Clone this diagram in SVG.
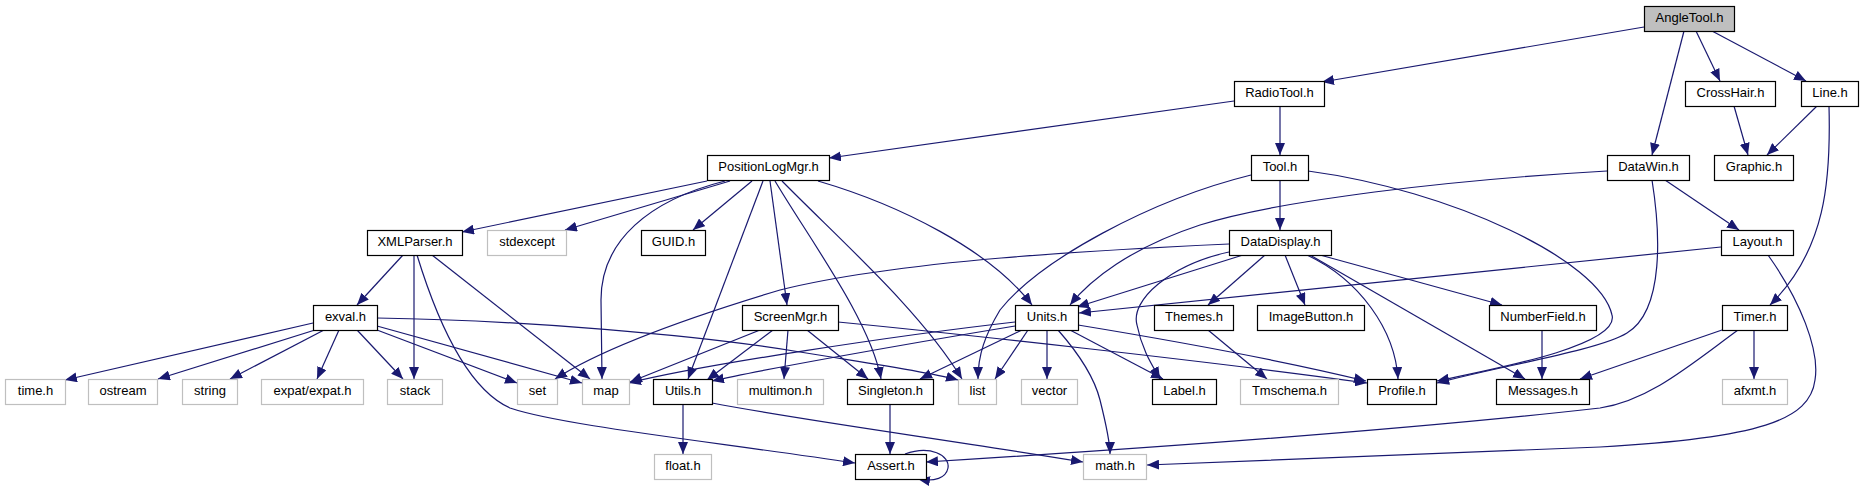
<svg xmlns="http://www.w3.org/2000/svg" width="1863" height="486" viewBox="0 0 1863 486">
<defs>
<style>
.n rect{fill:#fff;stroke:#000;stroke-width:1.2}
.n.s rect{stroke:#bfbfbf}
.n.r rect{fill:#bfbfbf}
.n text{font-family:"Liberation Sans",Arial,sans-serif;font-size:13px;fill:#000;text-anchor:middle}
#edges path{fill:none;stroke:#191970;stroke-width:1.2;marker-end:url(#a)}
</style>
<marker id="a" markerUnits="userSpaceOnUse" markerWidth="12" markerHeight="10" refX="12" refY="5" orient="auto">
<path d="M0,0L12,5L0,10z" fill="#191970"/>
</marker>
</defs>
<rect width="1863" height="486" fill="#fff"/>
<g id="edges">
<path d="M1644,27 L1322,82"/>
<path d="M1684,31 L1652,155"/>
<path d="M1696,31 L1720,81"/>
<path d="M1712,31 L1806,81"/>
<path d="M1280,106 L1280,155"/>
<path d="M1234,101 L829,158"/>
<path d="M1734,106 L1748,155"/>
<path d="M1817,106 L1767,155"/>
<path d="M1829,106 C1831,180 1826,250 1770,305"/>
<path d="M707,181 L462,232"/>
<path d="M730,181 L565,230"/>
<path d="M725,181 C650,200 601,240 601,300 L602,379"/>
<path d="M752,181 L693,230"/>
<path d="M763,181 L688,379"/>
<path d="M770,181 L787,305"/>
<path d="M775,181 C810,240 870,320 881,379"/>
<path d="M782,181 C840,240 920,310 962,379"/>
<path d="M818,181 C900,205 990,250 1032,305"/>
<path d="M1280,180 L1280,230"/>
<path d="M1251,175 C1150,200 1040,260 1000,310 C985,335 978,355 978,379"/>
<path d="M1308,171 C1450,190 1600,260 1612,315 C1620,345 1500,368 1437,381"/>
<path d="M1652,180 C1660,230 1665,310 1627,333 C1600,350 1500,366 1437,383"/>
<path d="M1607,171 C1450,180 1280,200 1200,225 C1130,248 1090,280 1070,305"/>
<path d="M1665,180 L1739,230"/>
<path d="M1721,247 L1079,313"/>
<path d="M1768,255 C1800,300 1820,350 1815,380 C1810,420 1760,438 1600,447 C1400,455 1250,462 1147,465"/>
<path d="M403,255 L357,305"/>
<path d="M414,255 L414,379"/>
<path d="M432,255 L590,379"/>
<path d="M417,255 C440,330 470,390 510,408 C560,425 700,440 855,463"/>
<path d="M1229,244 C1100,250 900,260 780,290 C680,320 600,350 555,379"/>
<path d="M1243,255 L1077,307"/>
<path d="M1265,255 L1208,305"/>
<path d="M1285,255 L1305,305"/>
<path d="M1229,252 C1170,265 1130,300 1137,325 C1142,350 1152,365 1160,379"/>
<path d="M1307,255 C1360,280 1395,330 1398,379"/>
<path d="M1310,255 L1525,379"/>
<path d="M1320,255 L1502,305"/>
<path d="M313,323 L65,380"/>
<path d="M315,330 L158,379"/>
<path d="M324,330 L230,379"/>
<path d="M339,330 L317,379"/>
<path d="M357,330 L403,379"/>
<path d="M377,330 L517,383"/>
<path d="M377,326 L582,383"/>
<path d="M377,318 C520,320 700,335 800,352 C880,365 930,372 958,380"/>
<path d="M760,330 L630,382"/>
<path d="M773,330 L707,380"/>
<path d="M788,330 L784,379"/>
<path d="M807,330 L868,379"/>
<path d="M838,322 C950,333 1200,360 1367,383"/>
<path d="M1015,322 C900,335 700,365 629,383"/>
<path d="M1015,326 C900,345 760,370 712,381"/>
<path d="M1022,330 L920,379"/>
<path d="M1028,330 L995,379"/>
<path d="M1047,330 L1047,379"/>
<path d="M1070,330 L1163,379"/>
<path d="M1058,330 C1080,355 1095,380 1100,400 C1105,420 1110,440 1110,454"/>
<path d="M1078,325 C1200,345 1300,365 1366,381"/>
<path d="M1208,330 L1267,379"/>
<path d="M1542,330 L1542,379"/>
<path d="M1722,330 L1580,379"/>
<path d="M1754,330 L1754,379"/>
<path d="M1738,330 C1690,365 1650,400 1600,408 C1450,425 1200,445 926,462"/>
<path d="M683,404 L683,454"/>
<path d="M890,404 L890,454"/>
<path d="M905,454 C930,445 950,455 948,468 C946,478 935,482 918,479"/>
<path d="M712,403 C800,420 950,440 1083,462"/>
</g>
<g id="AngleTool" class="n r"><rect x="1644.5" y="6.5" width="90" height="25"/><text x="1689.5" y="22">AngleTool.h</text></g>
<g id="RadioTool" class="n"><rect x="1234.5" y="81.5" width="90" height="25"/><text x="1279.5" y="97">RadioTool.h</text></g>
<g id="CrossHair" class="n"><rect x="1685.5" y="81.5" width="90" height="25"/><text x="1730.5" y="97">CrossHair.h</text></g>
<g id="Line" class="n"><rect x="1801.5" y="81.5" width="57" height="25"/><text x="1830" y="97">Line.h</text></g>
<g id="PositionLogMgr" class="n"><rect x="707.5" y="155.5" width="122" height="25"/><text x="768.5" y="171">PositionLogMgr.h</text></g>
<g id="Tool" class="n"><rect x="1251.5" y="155.5" width="57" height="25"/><text x="1280" y="171">Tool.h</text></g>
<g id="DataWin" class="n"><rect x="1607.5" y="155.5" width="82" height="25"/><text x="1648.5" y="171">DataWin.h</text></g>
<g id="Graphic" class="n"><rect x="1714.5" y="155.5" width="79" height="25"/><text x="1754" y="171">Graphic.h</text></g>
<g id="XMLParser" class="n"><rect x="367.5" y="230.5" width="95" height="25"/><text x="415" y="246">XMLParser.h</text></g>
<g id="stdexcept" class="n s"><rect x="487.5" y="230.5" width="79" height="25"/><text x="527" y="246">stdexcept</text></g>
<g id="GUID" class="n"><rect x="641.5" y="230.5" width="64" height="25"/><text x="673.5" y="246">GUID.h</text></g>
<g id="DataDisplay" class="n"><rect x="1229.5" y="230.5" width="102" height="25"/><text x="1280.5" y="246">DataDisplay.h</text></g>
<g id="Layout" class="n"><rect x="1721.5" y="230.5" width="72" height="25"/><text x="1757.5" y="246">Layout.h</text></g>
<g id="exval" class="n"><rect x="313.5" y="305.5" width="64" height="25"/><text x="345.5" y="321">exval.h</text></g>
<g id="ScreenMgr" class="n"><rect x="742.5" y="305.5" width="96" height="25"/><text x="790.5" y="321">ScreenMgr.h</text></g>
<g id="Units" class="n"><rect x="1015.5" y="305.5" width="63" height="25"/><text x="1047" y="321">Units.h</text></g>
<g id="Themes" class="n"><rect x="1154.5" y="305.5" width="79" height="25"/><text x="1194" y="321">Themes.h</text></g>
<g id="ImageButton" class="n"><rect x="1257.5" y="305.5" width="107" height="25"/><text x="1311" y="321">ImageButton.h</text></g>
<g id="NumberField" class="n"><rect x="1489.5" y="305.5" width="107" height="25"/><text x="1543" y="321">NumberField.h</text></g>
<g id="Timer" class="n"><rect x="1722.5" y="305.5" width="65" height="25"/><text x="1755" y="321">Timer.h</text></g>
<g id="time" class="n s"><rect x="5.5" y="379.5" width="60" height="25"/><text x="35.5" y="395">time.h</text></g>
<g id="ostream" class="n s"><rect x="88.5" y="379.5" width="69" height="25"/><text x="123" y="395">ostream</text></g>
<g id="string" class="n s"><rect x="182.5" y="379.5" width="55" height="25"/><text x="210" y="395">string</text></g>
<g id="expat" class="n s"><rect x="261.5" y="379.5" width="102" height="25"/><text x="312.5" y="395">expat/expat.h</text></g>
<g id="stack" class="n s"><rect x="387.5" y="379.5" width="55" height="25"/><text x="415" y="395">stack</text></g>
<g id="set" class="n s"><rect x="517.5" y="379.5" width="40" height="25"/><text x="537.5" y="395">set</text></g>
<g id="map" class="n s"><rect x="582.5" y="379.5" width="47" height="25"/><text x="606" y="395">map</text></g>
<g id="Utils" class="n"><rect x="653.5" y="379.5" width="59" height="25"/><text x="683" y="395">Utils.h</text></g>
<g id="multimon" class="n s"><rect x="737.5" y="379.5" width="86" height="25"/><text x="780.5" y="395">multimon.h</text></g>
<g id="Singleton" class="n"><rect x="847.5" y="379.5" width="86" height="25"/><text x="890.5" y="395">Singleton.h</text></g>
<g id="list" class="n s"><rect x="958.5" y="379.5" width="38" height="25"/><text x="977.5" y="395">list</text></g>
<g id="vector" class="n s"><rect x="1021.5" y="379.5" width="56" height="25"/><text x="1049.5" y="395">vector</text></g>
<g id="Label" class="n"><rect x="1152.5" y="379.5" width="64" height="25"/><text x="1184.5" y="395">Label.h</text></g>
<g id="Tmschema" class="n s"><rect x="1240.5" y="379.5" width="98" height="25"/><text x="1289.5" y="395">Tmschema.h</text></g>
<g id="Profile" class="n"><rect x="1367.5" y="379.5" width="69" height="25"/><text x="1402" y="395">Profile.h</text></g>
<g id="Messages" class="n"><rect x="1496.5" y="379.5" width="93" height="25"/><text x="1543" y="395">Messages.h</text></g>
<g id="afxmt" class="n s"><rect x="1722.5" y="379.5" width="65" height="25"/><text x="1755" y="395">afxmt.h</text></g>
<g id="float" class="n s"><rect x="654.5" y="454.5" width="57" height="25"/><text x="683" y="470">float.h</text></g>
<g id="Assert" class="n"><rect x="855.5" y="454.5" width="71" height="25"/><text x="891" y="470">Assert.h</text></g>
<g id="math" class="n s"><rect x="1083.5" y="454.5" width="63" height="25"/><text x="1115" y="470">math.h</text></g>
</svg>
